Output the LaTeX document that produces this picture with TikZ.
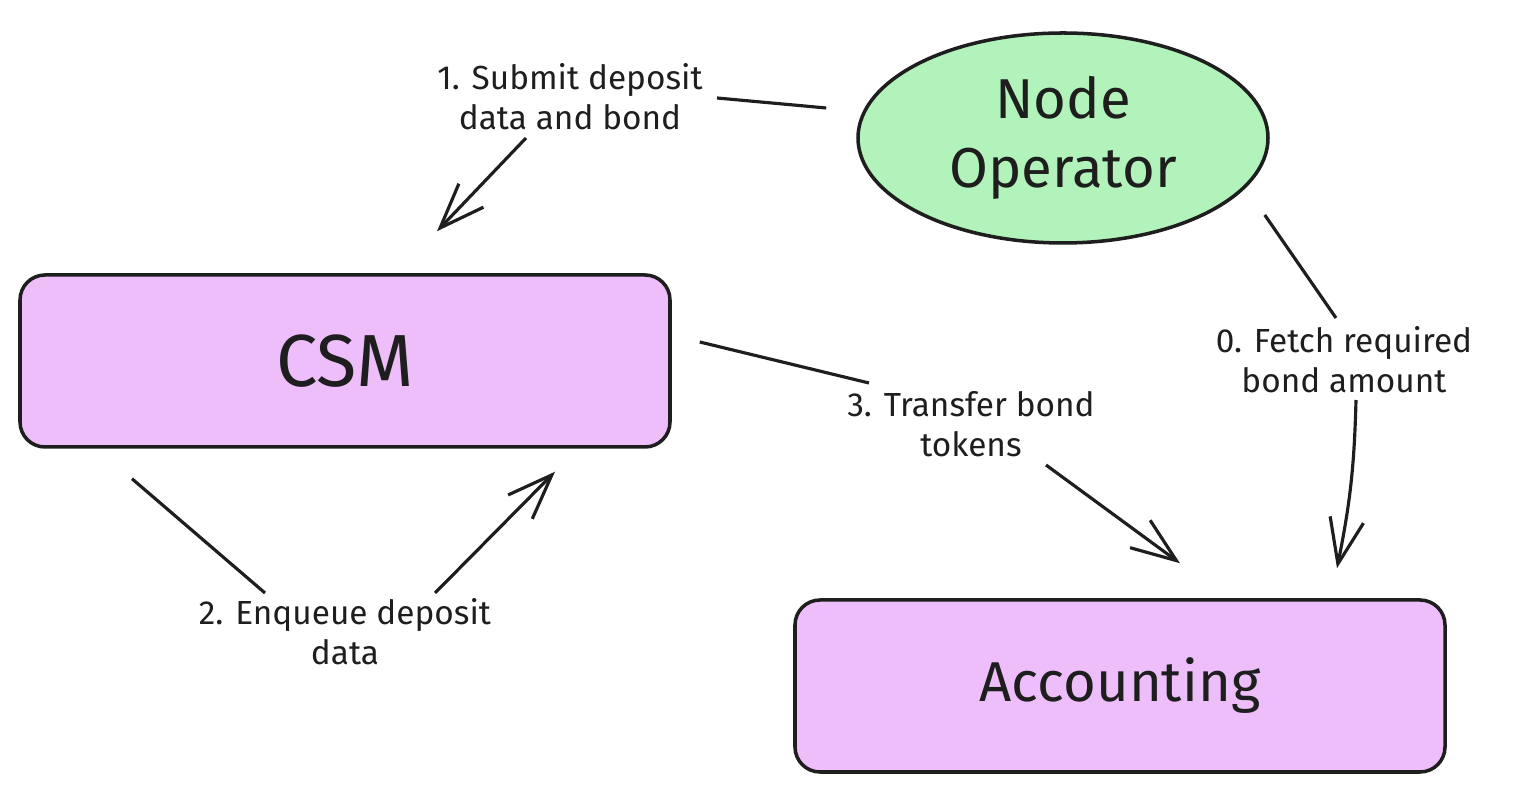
\documentclass[tikz,border=0pt]{standalone}
\usepackage{fontspec}
\setsansfont{Fira Sans}
\usetikzlibrary{arrows.meta,positioning,shapes.geometric}
\definecolor{nodegreen}{HTML}{B2F2BB}
\definecolor{boxpurple}{HTML}{EEBEFA}
\definecolor{ink}{HTML}{1E1E1E}

\begin{document}
\begin{tikzpicture}[font=\sffamily, color=ink,
  actor/.style={draw=ink,ellipse,line width=1pt,fill=nodegreen,minimum width=4.1cm,minimum height=2.1cm,
    inner sep=0pt,align=center,font=\sffamily\fontsize{16}{19.5}\selectfont},
  module/.style={draw=ink,line width=1pt,rounded corners=0.25cm,fill=boxpurple,minimum width=6.5cm,
    minimum height=1.72cm,font=\sffamily\fontsize{16}{19.5}\selectfont},
  note/.style={align=center,inner sep=0pt,font=\sffamily\fontsize{9.5}{11.4}\selectfont},
  link/.style={line width=0.9pt},
  flow/.style={link,-{Straight Barb[length=4.5mm,width=3.4mm]}}]

    \useasboundingbox (0,0) rectangle (15.15,-7.92);

    % shapes
    \node[actor](no) at (10.63,-1.38) {Node\\Operator};
    \node[module,font=\sffamily\fontsize{21}{24}\selectfont](csm) at (3.45,-3.61) {CSM};
    \node[module](acc) at (11.20,-6.86) {Accounting};

    % labels on the arrows
    \node[note](lbl1) at (5.70,-0.97) {1. Submit deposit\\data and bond};
    \node[note](lbl0) at (13.44,-3.60) {0. Fetch required\\bond amount};
    \node[note](lbl3) at (9.71,-4.24) {3. Transfer bond\\tokens};
    \node[note](lbl2) at (3.45,-6.32) {2. Enqueue deposit\\data};

    % loose arrow ends
    \coordinate[above left=0.30cm and 0.30cm of no.west](n1);
    \coordinate(c1) at ([shift={(0.92,0.42)}]csm.north);
    \coordinate(n0) at ([shift={(-0.05,-0.77)}]no.east);
    \coordinate(a0) at ([shift={(2.17,0.30)}]acc.north);
    \coordinate(c3) at ([shift={(0.28,0.19)}]csm.east);
    \coordinate(a3) at ([shift={(0.60,0.35)}]acc.north);
    \coordinate(c2s) at ([shift={(-2.13,-0.30)}]csm.south);
    \coordinate(c2e) at ([shift={(2.10,-0.23)}]csm.south);

    \draw[link](n1) -- ([shift={(1.47,-0.01)}]lbl1.center);
    \draw[flow]([shift={(-0.44,-0.41)}]lbl1.center) -- (c1);
    \draw[link](n0) -- ([shift={(-0.08,0.42)}]lbl0.center);
    \draw[flow]([shift={(0.12,-0.40)}]lbl0.center) to[bend left=5] (a0);
    \draw[link](c3) -- ([shift={(-1.02,0.41)}]lbl3.center);
    \draw[flow]([shift={(0.75,-0.41)}]lbl3.center) -- (a3);
    \draw[link](c2s) -- ([shift={(-0.80,0.39)}]lbl2.center);
    \draw[flow]([shift={(0.90,0.39)}]lbl2.center) -- (c2e);
\end{tikzpicture}
\end{document}
